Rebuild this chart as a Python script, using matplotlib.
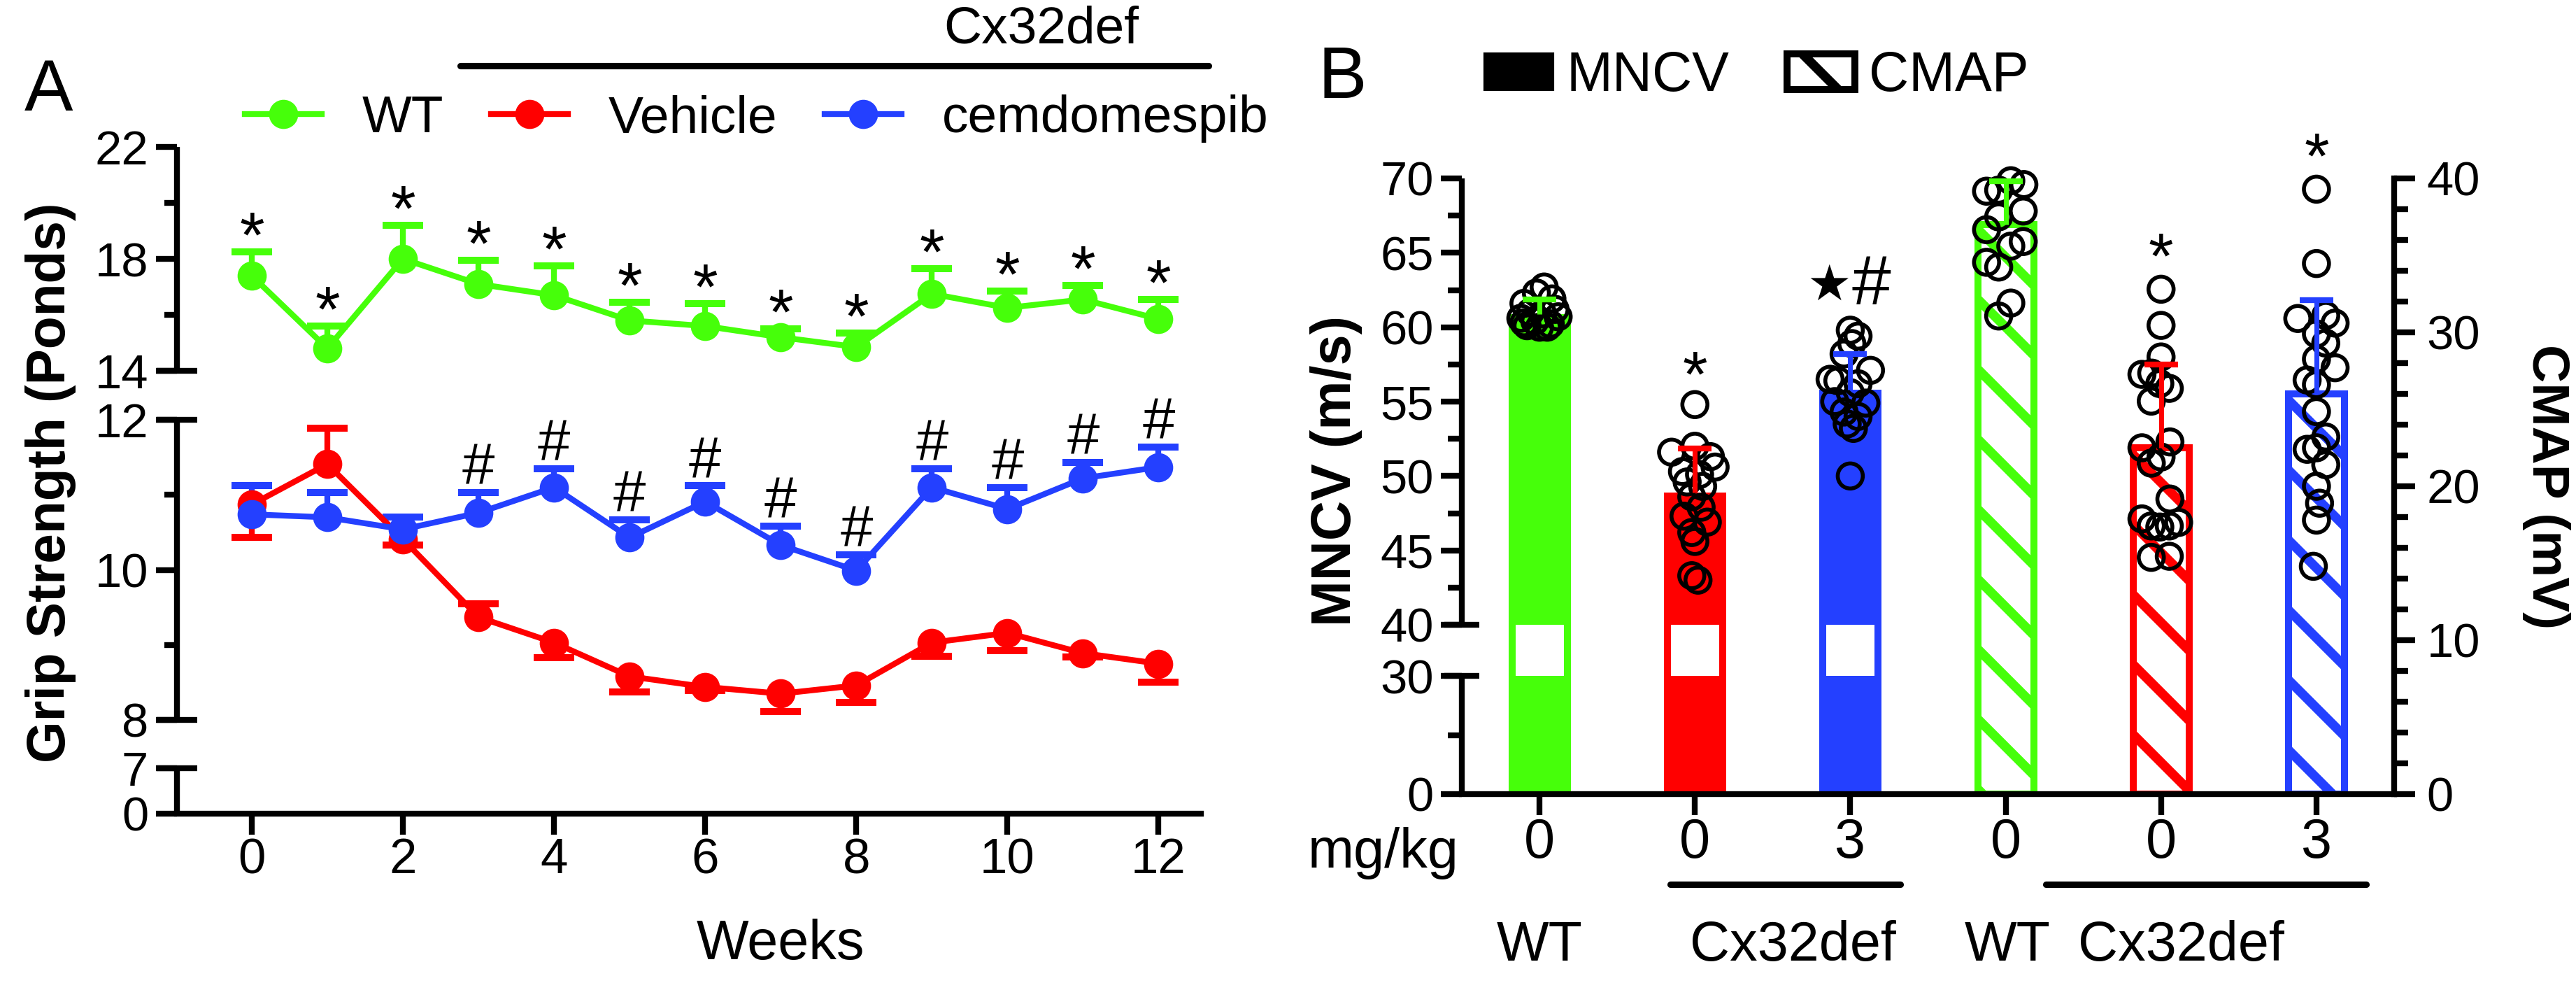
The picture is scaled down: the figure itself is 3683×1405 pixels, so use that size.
import numpy as np
import matplotlib
matplotlib.use("Agg")
import matplotlib.pyplot as plt
from matplotlib.lines import Line2D
from matplotlib.patches import Patch

plt.rcParams['font.family'] = ['Liberation Sans', 'DejaVu Sans']
plt.rcParams['hatch.linewidth'] = 3.2

GREEN = '#46FF0A'
RED = '#FF0000'
BLUE = '#2440FF'

# ---------------- panel A data (grip strength) ----------------
weeks = [0, 1, 2, 3, 4, 5, 6, 7, 8, 9, 10, 11, 12]
week_ticks = [0, 2, 4, 6, 8, 10, 12]

wt_mean = [17.4, 14.8, 18.0, 17.1, 16.7, 15.8, 15.6, 15.2, 14.85, 16.75, 16.25, 16.55, 15.85]
wt_sem = [0.85, 0.8, 1.2, 0.85, 1.05, 0.65, 0.8, 0.3, 0.5, 0.9, 0.6, 0.5, 0.7]

veh_mean = [10.87, 11.41, 10.41, 9.37, 9.03, 8.58, 8.44, 8.35, 8.46, 9.03, 9.16, 8.89, 8.75]
veh_lo = [0.44, 0.0, 0.08, 0.0, 0.20, 0.21, 0.05, 0.24, 0.23, 0.18, 0.24, 0.05, 0.25]
veh_hi = [0.0, 0.48, 0.0, 0.18, 0.0, 0.0, 0.0, 0.0, 0.0, 0.0, 0.0, 0.0, 0.0]

cem_mean = [10.74, 10.70, 10.54, 10.76, 11.10, 10.43, 10.91, 10.33, 9.99, 11.10, 10.81, 11.22, 11.37]
cem_sem = [0.38, 0.33, 0.16, 0.27, 0.25, 0.24, 0.21, 0.25, 0.21, 0.25, 0.29, 0.21, 0.27]
hash_weeks = [3, 4, 5, 6, 7, 8, 9, 10, 11, 12]

a_major = [0, 7, 8, 10, 12, 14, 18, 22]
a_minor = [9, 11, 16, 20]

# ---------------- panel B data (MNCV / CMAP) ----------------
dose_labels = ['0', '0', '3', '0', '0', '3']
x_mncv = [0, 1, 2]
x_cmap = [3, 4, 5]

mncv_mean = [60.9, 48.9, 55.8]
mncv_sem = [0.95, 2.95, 2.4]
mncv_pts = [
    [62.7, 62.3, 61.9, 61.6, 61.2, 61.0, 60.9, 60.7, 60.6, 60.4, 60.2, 60.1, 60.0, 60.0, 60.3],
    [54.8, 52.0, 51.6, 51.3, 50.6, 50.3, 50.1, 49.6, 49.3, 48.6, 47.9, 47.3, 46.9, 46.2, 45.6, 43.3, 43.0],
    [59.8, 59.4, 58.9, 58.2, 57.1, 56.5, 56.4, 56.2, 55.6, 55.0, 54.9, 54.3, 54.0, 53.5, 53.2, 50.0],
]
mncv_off = [
    [0.03, -0.02, 0.08, -0.1, 0.1, -0.06, 0.02, 0.12, -0.12, -0.03, 0.07, -0.08, 0.0, 0.05, -0.1],
    [0.0, 0.0, -0.15, 0.1, 0.13, -0.08, 0.03, -0.05, 0.05, -0.02, 0.04, -0.07, 0.08, -0.02, 0.0, -0.02, 0.02],
    [0.0, 0.05, 0.01, -0.04, 0.13, -0.13, -0.08, 0.05, 0.0, -0.1, 0.1, -0.04, 0.05, -0.02, 0.02, 0.0],
]

cmap_mean = [37.0, 22.5, 26.0]
cmap_sem = [2.8, 5.4, 6.1]
cmap_pts = [
    [39.85, 39.6, 39.24, 39.17, 37.88, 37.5, 36.67, 35.9, 35.6, 34.55, 34.24, 31.9, 31.06],
    [32.8, 30.45, 28.4, 27.27, 27.35, 26.67, 26.36, 25.53, 22.5, 22.88, 21.9, 21.5, 19.17,
     17.88, 17.42, 17.35, 17.42, 17.65, 15.38, 15.45],
    [39.3, 34.47, 30.9, 31.1, 30.6, 29.9, 29.3, 28.26, 27.7, 26.9, 26.6, 24.85, 23.2, 22.4,
     22.5, 21.4, 20.0, 18.9, 17.8, 14.8],
]
cmap_off = [
    [0.033, 0.117, -0.045, -0.123, 0.113, -0.045, -0.123, 0.113, 0.033, -0.123, -0.045, 0.033, -0.045],
    [0.0, 0.0, 0.0, -0.123, -0.06, -0.008, 0.053, -0.063, -0.123, 0.057, 0.0, -0.063, 0.057,
     -0.123, -0.063, -0.008, 0.053, 0.113, -0.063, 0.053],
    [0.0, 0.0, -0.12, 0.06, 0.12, 0.0, 0.06, 0.0, 0.12, -0.06, 0.0, 0.0, 0.06, -0.06, 0.0, 0.06,
     0.0, 0.02, 0.0, -0.02],
]
b_major = [0, 30, 40, 45, 50, 55, 60, 65, 70]
b_minor = [15, 42.5, 47.5, 52.5, 57.5, 62.5, 67.5]
brk_lo, brk_hi = 30, 40


def piecewise(xp, fp):
    # broken axis: piecewise linear map value -> screen height
    xp = np.asarray(xp, float)
    fp = np.asarray(fp, float)
    s0 = (fp[1] - fp[0]) / (xp[1] - xp[0])
    s1 = (fp[-1] - fp[-2]) / (xp[-1] - xp[-2])
    xe = np.r_[xp[0] - 1e4, xp, xp[-1] + 1e4]
    fe = np.r_[fp[0] - 1e4 * s0, fp, fp[-1] + 1e4 * s1]
    return (lambda v: np.interp(v, xe, fe)), (lambda v: np.interp(v, fe, xe))


def draw_err(ax, x, y, lo, hi, color, cap_ms, lw, capw, z):
    x = np.asarray(x, float)
    y = np.asarray(y, float)
    lo = np.asarray(lo, float)
    hi = np.asarray(hi, float)
    ax.errorbar(x, y, yerr=[lo, hi], fmt='none', ecolor=color, elinewidth=lw,
                capsize=0, zorder=z)
    up = hi > 0
    dn = lo > 0
    ax.plot(x[up], (y + hi)[up], ls='none', marker='_', ms=cap_ms, mew=capw,
            color=color, zorder=z)
    ax.plot(x[dn], (y - lo)[dn], ls='none', marker='_', ms=cap_ms, mew=capw,
            color=color, zorder=z)


W, H = 3683, 1405
fig = plt.figure(figsize=(W / 300, H / 300), dpi=300)

# ======================= Panel A =======================
ax_a = fig.add_axes([253 / W, 1 - 1163 / H, 1464 / W, 953 / H])
fa, ia = piecewise([0, 7, 8, 12, 14, 22], [0, 65, 134, 563, 633, 953])
ax_a.set_yscale('function', functions=(fa, ia))
ax_a.set_ylim(0, 22)
ax_a.set_xlim(-0.99, 12.56)

series = [
    (wt_mean, [0] * 13, wt_sem, GREEN),
    (veh_mean, veh_lo, veh_hi, RED),
    (cem_mean, [0] * 13, cem_sem, BLUE),
]
for mean, lo, hi, col in series:
    draw_err(ax_a, weeks, mean, lo, hi, col, 13.7, 2.0, 2.4, 2)
    ax_a.plot(weeks, mean, '-o', color=col, lw=2.0, ms=9, zorder=3)

for w, m, e in zip(weeks, wt_mean, wt_sem):
    ax_a.annotate('*', (w, m + e), xytext=(0, 4), textcoords='offset points',
                  ha='center', va='center', fontsize=22)
for w in hash_weeks:
    ax_a.annotate('#', (w, cem_mean[w] + cem_sem[w]), xytext=(0, 8),
                  textcoords='offset points', ha='center', va='center', fontsize=20)

for s in ['top', 'right', 'left']:
    ax_a.spines[s].set_visible(False)
ax_a.spines['bottom'].set_linewidth(2)
ytr = ax_a.get_yaxis_transform()
for lo, hi in [(0, 7), (8, 12), (14, 22)]:
    ax_a.plot([0, 0], [lo, hi], transform=ytr, color='k', lw=2, clip_on=False,
              solid_capstyle='butt')
ax_a.plot([0] * 4, [7, 8, 12, 14], transform=ytr, ls='none', marker='_', ms=13.7,
          mew=2, color='k', clip_on=False)

ax_a.set_yticks(a_major)
ax_a.set_yticks(a_minor, minor=True)
ax_a.set_yticklabels([str(v) for v in a_major])
ax_a.set_xticks(week_ticks)
ax_a.tick_params(axis='y', which='major', length=7.2, width=2, labelsize=16.5, pad=2.6)
ax_a.tick_params(axis='y', which='minor', length=4.3, width=2)
ax_a.tick_params(axis='x', which='major', length=7.2, width=2, labelsize=17, pad=1)

ax_a.text(-0.123, 0.497, 'Grip Strength (Ponds)', transform=ax_a.transAxes,
          rotation=90, ha='center', va='center', fontsize=18.4, fontweight='bold')
ax_a.text(7.0, -0.197, 'Weeks', transform=ax_a.get_xaxis_transform(),
          ha='center', va='center', fontsize=19)

xtr = ax_a.get_xaxis_transform()
ax_a.plot([2.76, 12.66], [1.1217, 1.1217], transform=xtr, color='k', lw=2.2,
          clip_on=False, solid_capstyle='round')
ax_a.text(10.45, 1.176, 'Cx32def', transform=xtr, ha='center', va='center', fontsize=18)

hand_a = [Line2D([], [], color=c, marker='o', lw=2, ms=9) for c in (GREEN, RED, BLUE)]
ax_a.legend(hand_a, ['WT', 'Vehicle', 'cemdomespib'], ncol=3, frameon=False,
            fontsize=18, handlelength=1.47, handletextpad=0.77, columnspacing=0.9,
            loc='center left', bbox_to_anchor=(0.0663, 1.042), borderpad=0,
            borderaxespad=0)

fig.text(70 / W, 1 - 132 / H, 'A', ha='center', va='center', fontsize=25)

# ======================= Panel B =======================
ax_b = fig.add_axes([2090 / W, 1 - 1135 / H, 1333 / W, 880 / H])
fb, ib = piecewise([0, brk_lo, brk_hi, 70], [0, 169, 242, 880])
ax_b.set_yscale('function', functions=(fb, ib))
ax_b.set_ylim(0, 70)
ax_b.set_xlim(-0.5, 5.5)
ax_c = ax_b.twinx()
ax_c.set_ylim(0, 40)
ax_b.set_zorder(2)
ax_b.patch.set_visible(False)

cols = [GREEN, RED, BLUE]
ax_b.bar(x_mncv, mncv_mean, width=0.4, color=cols, zorder=1)
ax_b.bar(x_mncv, [brk_hi - brk_lo] * 3, bottom=brk_lo, width=0.31, color='white', zorder=2)
for xi, vals, offs in zip(x_mncv, mncv_pts, mncv_off):
    ax_b.scatter(xi + np.asarray(offs), vals, s=74, facecolors='none', edgecolors='k',
                 linewidths=1.35, zorder=3, clip_on=False)
for xi, m, e, c in zip(x_mncv, mncv_mean, mncv_sem, cols):
    draw_err(ax_b, [xi], [m], [0], [e], c, 11.3, 1.7, 2.0, 4)

ax_c.bar(x_cmap, cmap_mean, width=0.36, facecolor='white', edgecolor=cols,
         hatch='\\', linewidth=2.4, zorder=1)
for xi, vals, offs in zip(x_cmap, cmap_pts, cmap_off):
    ax_c.scatter(xi + np.asarray(offs), vals, s=74, facecolors='none', edgecolors='k',
                 linewidths=1.35, zorder=3, clip_on=False)
for xi, m, e, c in zip(x_cmap, cmap_mean, cmap_sem, cols):
    draw_err(ax_c, [xi], [m], [0], [e], c, 11.3, 1.7, 2.0, 4)

# significance marks
ax_b.annotate('*', (x_mncv[1], max(mncv_pts[1])), xytext=(0, 8.6), textcoords='offset points',
              ha='center', va='center', fontsize=22)
ax_b.annotate('\u2605', (x_mncv[2], max(mncv_pts[2])), xytext=(-7.2, 15),
              textcoords='offset points', ha='center', va='center', fontsize=17,
              family='DejaVu Sans')
ax_b.annotate('#', (x_mncv[2], max(mncv_pts[2])), xytext=(7.2, 15), textcoords='offset points',
              ha='center', va='center', fontsize=24)
for k in (1, 2):
    ax_c.annotate('*', (x_cmap[k], max(cmap_pts[k])), xytext=(0, 9.5),
                  textcoords='offset points', ha='center', va='center', fontsize=22,
                  annotation_clip=False)

# axes styling
for s in ['top', 'right', 'left']:
    ax_b.spines[s].set_visible(False)
ax_b.spines['bottom'].set_linewidth(2)
for s in ['top', 'left', 'bottom']:
    ax_c.spines[s].set_visible(False)
ax_c.spines['right'].set_linewidth(2)
ax_c.spines['right'].set_bounds(0, 40)

ytb = ax_b.get_yaxis_transform()
for lo, hi in [(0, brk_lo), (brk_hi, 70)]:
    ax_b.plot([0, 0], [lo, hi], transform=ytb, color='k', lw=2, clip_on=False,
              solid_capstyle='butt')
ax_b.plot([0, 0], [brk_lo, brk_hi], transform=ytb, ls='none', marker='_', ms=12,
          mew=2, color='k', clip_on=False)

ax_b.set_yticks(b_major)
ax_b.set_yticklabels([str(v) for v in b_major])
ax_b.set_yticks(b_minor, minor=True)
ax_b.set_xticks(x_mncv + x_cmap)
ax_b.set_xticklabels(dose_labels)
ax_b.tick_params(axis='y', which='major', length=7.2, width=2, labelsize=16.5, pad=2.4)
ax_b.tick_params(axis='y', which='minor', length=4.8, width=2)
ax_b.tick_params(axis='x', which='major', length=7.2, width=2, labelsize=19, pad=0.8)

ax_c.set_yticks([0, 10, 20, 30, 40])
ax_c.set_yticks(list(range(0, 41, 2)), minor=True)
ax_c.tick_params(axis='y', which='major', length=7.2, width=2, labelsize=16.5, pad=4)
ax_c.tick_params(axis='y', which='minor', length=4.8, width=2)

ax_b.text(-0.135, 0.525, 'MNCV (m/s)', transform=ax_b.transAxes, rotation=90,
          ha='center', va='center', fontsize=19, fontweight='bold')
ax_b.text(1.163, 0.499, 'CMAP (mV)', transform=ax_b.transAxes, rotation=270,
          ha='center', va='center', fontsize=18, fontweight='bold')

xtb = ax_b.get_xaxis_transform()
ax_b.text(-0.52, -0.1193, 'mg/kg', transform=xtb, ha='right', va='baseline', fontsize=19)
group_text = [(0, 'WT'), (1.63, 'Cx32def'), (3.01, 'WT'), (4.13, 'Cx32def')]
for gx, gt in group_text:
    ax_b.text(gx, -0.2705, gt, transform=xtb, ha='center', va='baseline', fontsize=19)
for x0, x1 in [(0.84, 2.32), (3.26, 5.32)]:
    ax_b.plot([x0, x1], [-0.1466, -0.1466], transform=xtb, color='k', lw=2.2,
              clip_on=False, solid_capstyle='round')

hand_b = [Patch(facecolor='black', edgecolor='black'),
          Patch(facecolor='white', edgecolor='black', hatch='\\', linewidth=2.4)]
ax_b.legend(hand_b, ['MNCV', 'CMAP'], ncol=2, frameon=False, fontsize=19,
            handlelength=1.22, handleheight=0.62, handletextpad=0.25, columnspacing=1.05,
            loc='center left', bbox_to_anchor=(0.0248, 1.165), borderpad=0,
            borderaxespad=0)

fig.text(1919 / W, 1 - 114 / H, 'B', ha='center', va='center', fontsize=25)

fig.savefig('out.png', dpi=300)
